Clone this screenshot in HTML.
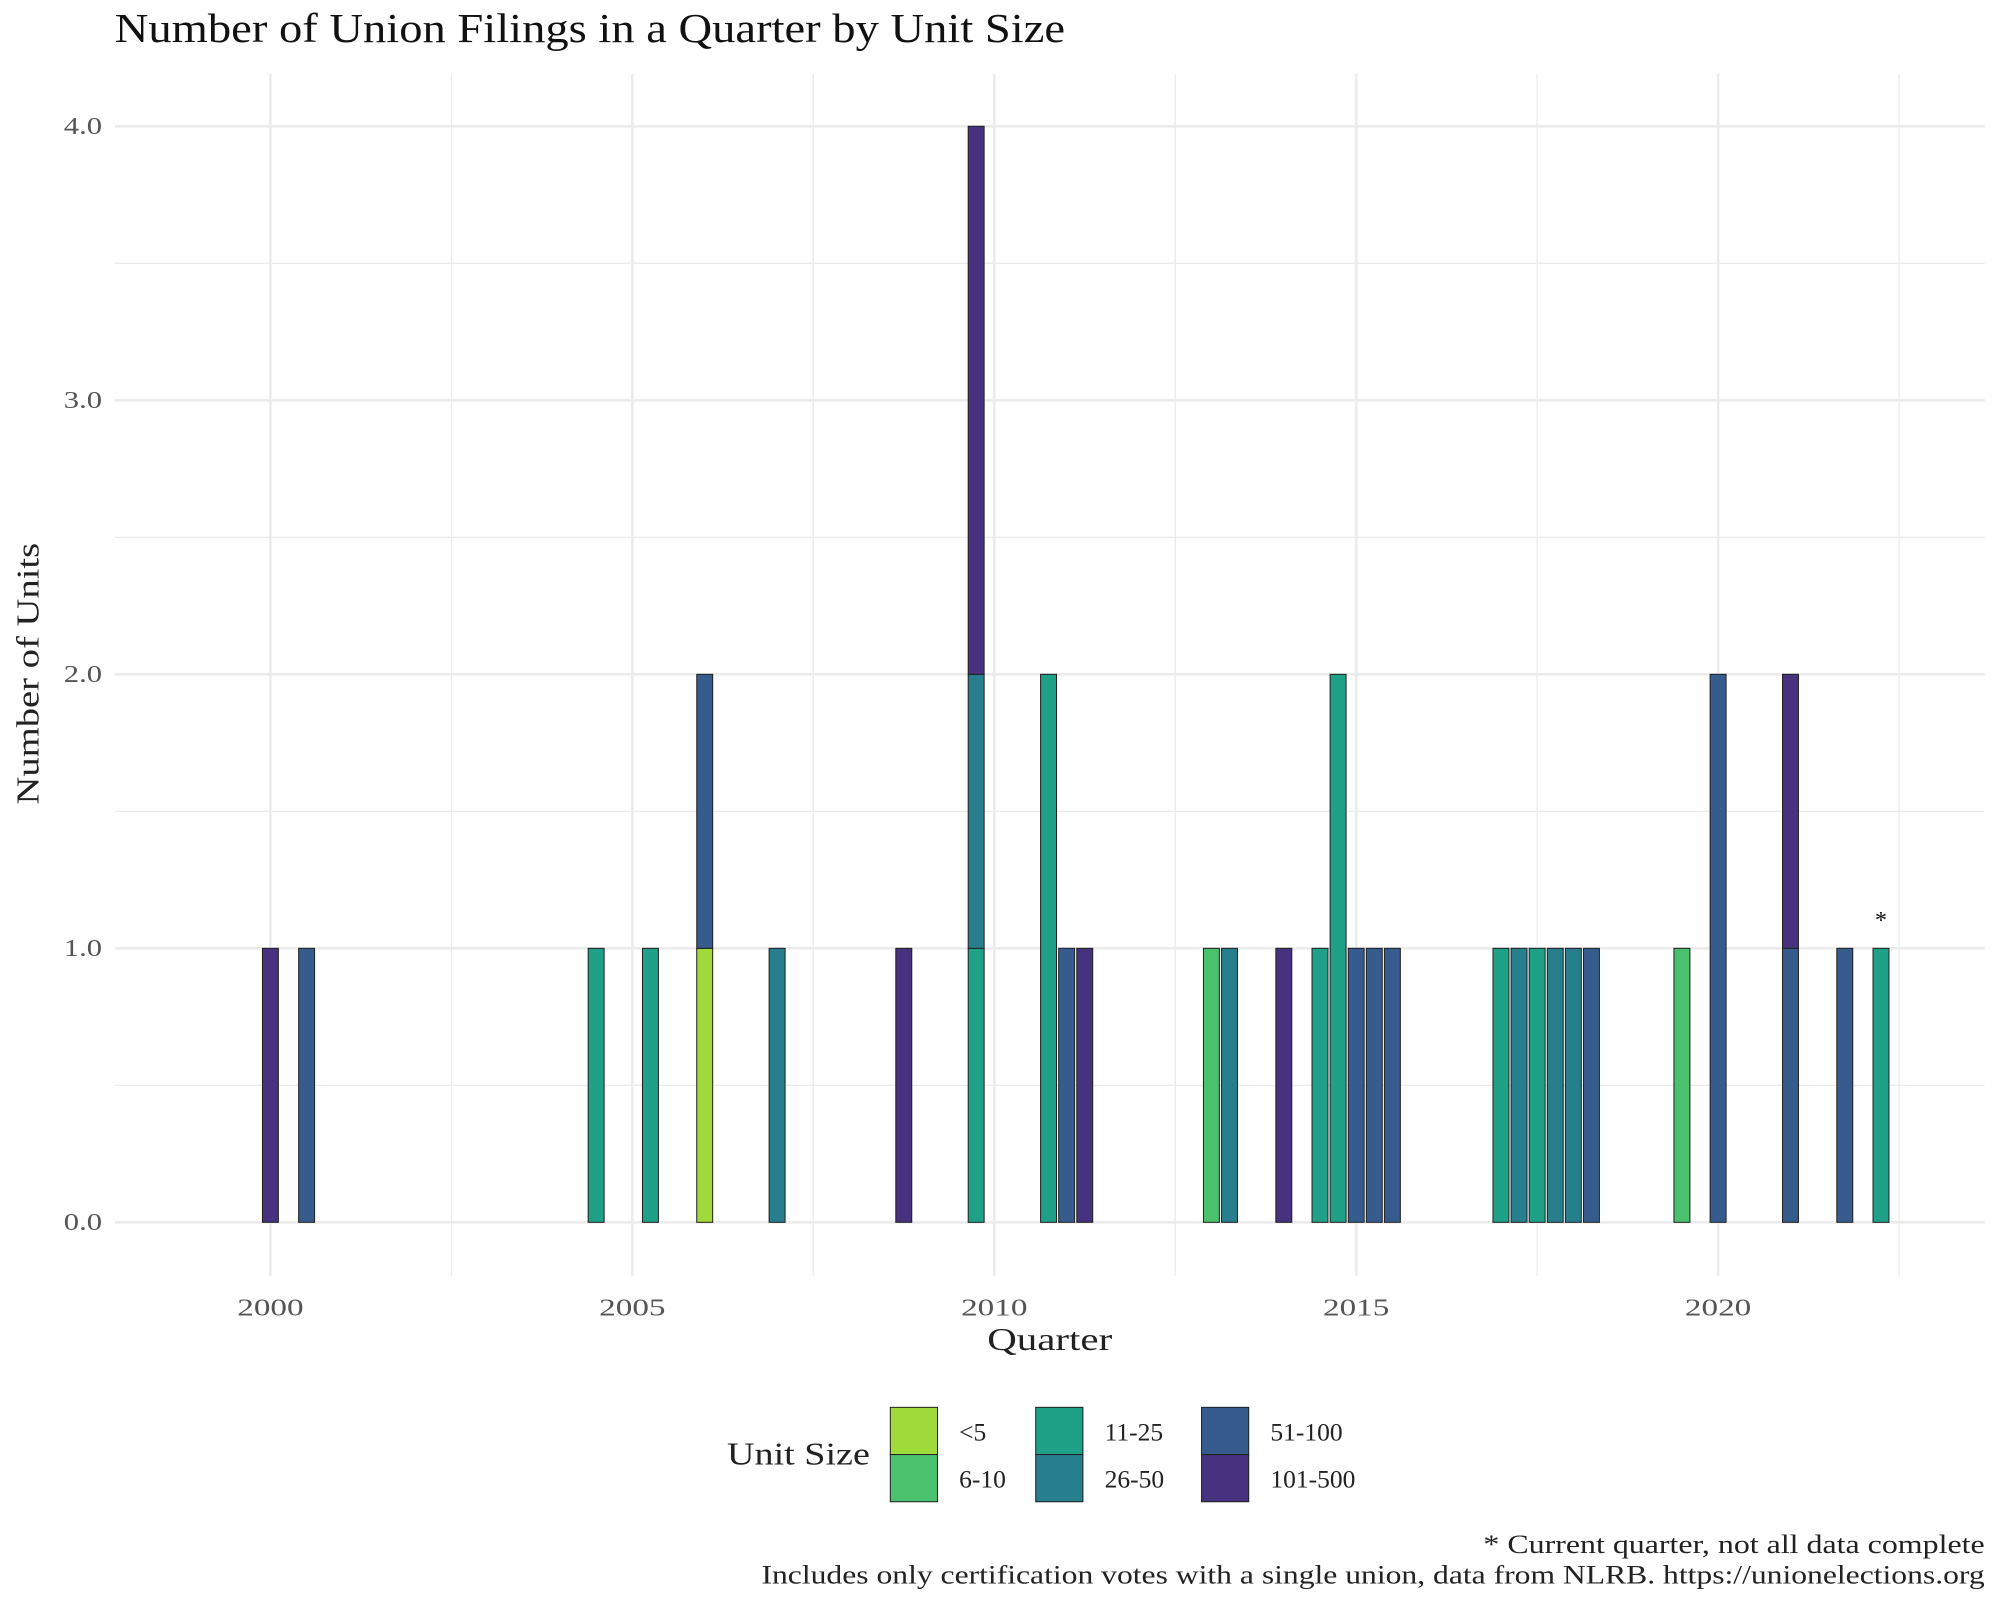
<!DOCTYPE html>
<html><head><meta charset="utf-8"><style>
html,body{margin:0;padding:0;background:#fff}
svg{display:block;font-family:"Liberation Serif",serif}
</style></head><body>
<svg id="chart" width="2000" height="1600" viewBox="0 0 1568 1254" preserveAspectRatio="none" xmlns="http://www.w3.org/2000/svg">
<rect width="1568" height="1254" fill="#fff"/>
<text x="90" y="33" font-size="32" fill="#111" textLength="745" lengthAdjust="spacingAndGlyphs">Number of Union Filings in a Quarter by Unit Size</text>
<g id="grid"></g>
<g id="bars"></g>
<g id="axes"></g>
<text transform="translate(30,528) rotate(-90)" text-anchor="middle" font-size="25" fill="#222" textLength="205" lengthAdjust="spacingAndGlyphs">Number of Units</text>
<text x="823" y="1058" text-anchor="middle" font-size="25" fill="#222" textLength="98" lengthAdjust="spacingAndGlyphs">Quarter</text>
<g id="legend">
<text x="570" y="1148" font-size="25" fill="#222" textLength="112" lengthAdjust="spacingAndGlyphs">Unit Size</text>
</g>
<text x="1556" y="1217" text-anchor="end" font-size="21" fill="#222" textLength="393" lengthAdjust="spacingAndGlyphs">* Current quarter, not all data complete</text>
<text x="1556" y="1241" text-anchor="end" font-size="21" fill="#222" textLength="959" lengthAdjust="spacingAndGlyphs">Includes only certification votes with a single union, data from NLRB. https://unionelections.org</text>
</svg>
<script>
const categories = ["<5","6-10","11-25","26-50","51-100","101-500"];
const colors = ["#9fda3a","#4ac16d","#1fa187","#277f8e","#365c8d","#46327e"];
const quarters = [2000.0,2000.5,2004.5,2005.25,2006.0,2007.0,2008.75,2009.75,2010.75,2011.0,2011.25,2013.0,2013.25,2014.0,2014.5,2014.75,2015.0,2015.25,2015.5,2017.0,2017.25,2017.5,2017.75,2018.0,2018.25,2019.5,2020.0,2021.0,2021.75,2022.25];
// counts per category for each quarter: [<5, 6-10, 11-25, 26-50, 51-100, 101-500]
const counts = [
[0,0,0,0,0,1],[0,0,0,0,1,0],[0,0,1,0,0,0],[0,0,1,0,0,0],[1,0,0,0,1,0],[0,0,0,1,0,0],
[0,0,0,0,0,1],[0,0,1,1,0,2],[0,0,2,0,0,0],[0,0,0,0,1,0],[0,0,0,0,0,1],[0,1,0,0,0,0],
[0,0,0,1,0,0],[0,0,0,0,0,1],[0,0,1,0,0,0],[0,0,2,0,0,0],[0,0,0,0,1,0],[0,0,0,0,1,0],
[0,0,0,0,1,0],[0,0,1,0,0,0],[0,0,0,1,0,0],[0,0,1,0,0,0],[0,0,0,1,0,0],[0,0,0,1,0,0],
[0,0,0,0,1,0],[0,1,0,0,0,0],[0,0,0,0,2,0],[0,0,0,0,1,1],[0,0,0,0,1,0],[0,0,1,0,0,0]];
const xTicks = [2000,2005,2010,2015,2020];
const yTicks = [0,1,2,3,4];
const yTickLabels = ["0.0","1.0","2.0","3.0","4.0"];
const partialQuarter = 2022.25;

const NS="http://www.w3.org/2000/svg";
const px=(yr)=>212+(yr-2000)*56.75;
const py=(v)=>958-v*214.75;
const L=90,R=1556,T=58,B=1000;
function mk(tag,attrs,parent){const e=document.createElementNS(NS,tag);for(const k in attrs)e.setAttribute(k,attrs[k]);parent.appendChild(e);return e;}
const grid=document.getElementById('grid'),bars=document.getElementById('bars'),axes=document.getElementById('axes'),legend=document.getElementById('legend');
for(let v=-0.5;v<=4.5;v+=0.5){const y=py(v);if(y<T||y>B)continue;
 const l=mk('line',{x1:L,x2:R,y1:y,y2:y,stroke:'#ebebeb','stroke-width':Number.isInteger(v)?2:1},grid);
 }
for(let yr=1997.5;yr<=2025;yr+=2.5){const x=px(yr);if(x<L||x>R)continue;
 const l=mk('line',{x1:x,x2:x,y1:T,y2:B,stroke:'#ebebeb','stroke-width':(yr%5===0)?2:1},grid);
 }
yTicks.forEach((v,i)=>{const t=mk('text',{x:80,y:py(v)+6,'text-anchor':'end','font-size':19,fill:'#555',textLength:30,lengthAdjust:'spacingAndGlyphs'},axes);t.textContent=yTickLabels[i];
 });
xTicks.forEach(v=>{const t=mk('text',{x:px(v),y:1031,'text-anchor':'middle','font-size':19,fill:'#555',textLength:52,lengthAdjust:'spacingAndGlyphs'},axes);t.textContent=v;
 });
const bw=12.5;
quarters.forEach((q,i)=>{let base=0;counts[i].forEach((c,k)=>{if(!c)return;
 const r=mk('rect',{x:px(q)-bw/2,y:py(base+c),width:bw,height:py(base)-py(base+c),fill:colors[k],stroke:'#222','stroke-width':0.8},bars);
 base+=c;});
 if(q===partialQuarter){const s=mk('text',{x:px(q),y:py(base)-16,'text-anchor':'middle','font-size':19,fill:'#111'},bars);s.textContent='*';
 }});
const lx=[698,812,942],ly=[1103,1140];
categories.forEach((c,k)=>{const col=Math.floor(k/2),row=k%2;
 const r=mk('rect',{x:lx[col],y:ly[row],width:37,height:37,fill:colors[k],stroke:'#222','stroke-width':0.8},legend);
 
 const t=mk('text',{x:lx[col]+54,y:ly[row]+26,'font-size':20,fill:'#222'},legend);t.textContent=c;
 });
</script>
</body></html>
